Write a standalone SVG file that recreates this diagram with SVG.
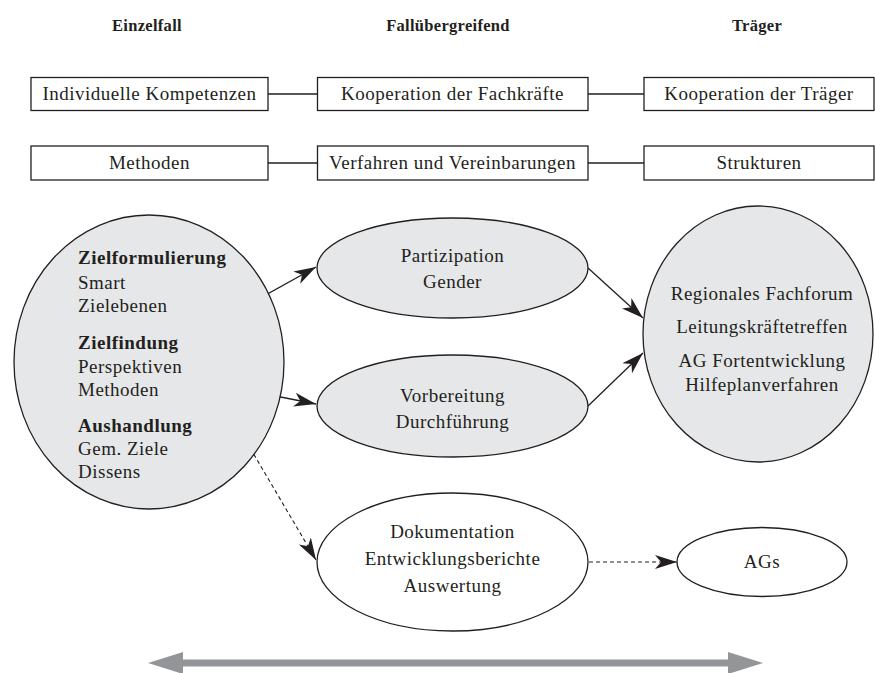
<svg xmlns="http://www.w3.org/2000/svg" width="875" height="673" viewBox="0 0 875 673" font-family="'Liberation Serif', 'Times New Roman', serif">
<style>
text{font-family:'Liberation Serif','Times New Roman',serif;font-size:19px;letter-spacing:0.5px;fill:#231f20}
.h{font-weight:bold;font-size:16.5px;text-anchor:middle;letter-spacing:0.3px}
.c{text-anchor:middle}
.b{font-weight:bold}
.box{fill:#fff;stroke:#231f20;stroke-width:1.3}
.g{fill:#e6e7e8;stroke:#231f20;stroke-width:1.3}
.w{fill:#fff;stroke:#231f20;stroke-width:1.3}
.ln{stroke:#231f20;stroke-width:1.3;fill:none}
.ar{stroke:#231f20;stroke-width:1.3;fill:none;marker-end:url(#ah)}
.da{stroke:#231f20;stroke-width:1.1;fill:none;stroke-dasharray:4 3;marker-end:url(#ah)}
</style>
<defs>
<marker id="ah" markerUnits="userSpaceOnUse" markerWidth="24" markerHeight="16" viewBox="0 0 24 16" refX="22" refY="8" orient="auto">
<path d="M0,1 L22,8 L0,15 L6,8 z" fill="#231f20"/>
</marker>
</defs>
<g id="headers">
<text class="h" x="147" y="31">Einzelfall</text>
<text class="h" x="448" y="31">Fallübergreifend</text>
<text class="h" x="757" y="31">Träger</text>
</g>
<g id="connectors">
<line class="ln" x1="268" y1="94" x2="318" y2="94"/>
<line class="ln" x1="588" y1="94" x2="644" y2="94"/>
<line class="ln" x1="268" y1="163" x2="318" y2="163"/>
<line class="ln" x1="588" y1="163" x2="644" y2="163"/>
<path class="ar" d="M235,312 L316,267"/>
<path class="ar" d="M235,388 L316,404"/>
<path class="ar" d="M588,268 L643,318"/>
<path class="ar" d="M588,406 L643,353"/>
<path class="da" d="M236,424 L316,560"/>
<path class="da" d="M589,562 L677,562"/>
</g>
<g id="box1"><rect class="box" x="31" y="77.5" width="237" height="33"/><text class="c" x="149.5" y="100">Individuelle Kompetenzen</text></g>
<g id="box2"><rect class="box" x="317.5" y="77.5" width="270.5" height="33"/><text class="c" x="452.5" y="100">Kooperation der Fachkräfte</text></g>
<g id="box3"><rect class="box" x="644" y="77.5" width="230" height="33"/><text class="c" x="759" y="100">Kooperation der Träger</text></g>
<g id="box4"><rect class="box" x="31" y="146" width="237" height="34"/><text class="c" x="149.5" y="169">Methoden</text></g>
<g id="box5"><rect class="box" x="317.5" y="146" width="270.5" height="34"/><text class="c" x="452.5" y="169">Verfahren und Vereinbarungen</text></g>
<g id="box6"><rect class="box" x="644" y="146" width="230" height="34"/><text class="c" x="759" y="169">Strukturen</text></g>
<g id="einzelfall">
<ellipse class="g" cx="149" cy="362" rx="135" ry="147"/>
<text class="b" x="78" y="264">Zielformulierung</text>
<text x="78" y="289">Smart</text>
<text x="78" y="312">Zielebenen</text>
<text class="b" x="78" y="349">Zielfindung</text>
<text x="78" y="373">Perspektiven</text>
<text x="78" y="396">Methoden</text>
<text class="b" x="78" y="432">Aushandlung</text>
<text x="78" y="455">Gem. Ziele</text>
<text x="78" y="478">Dissens</text>
</g>
<g id="partizipation">
<ellipse class="g" cx="452.5" cy="268" rx="135.5" ry="50"/>
<text class="c" x="452.5" y="262">Partizipation</text>
<text class="c" x="452.5" y="288">Gender</text>
</g>
<g id="vorbereitung">
<ellipse class="g" cx="452.5" cy="406" rx="135.5" ry="51"/>
<text class="c" x="452.5" y="402">Vorbereitung</text>
<text class="c" x="452.5" y="428">Durchführung</text>
</g>
<g id="traeger">
<ellipse class="g" cx="758" cy="334" rx="115" ry="128"/>
<text class="c" x="762" y="300">Regionales Fachforum</text>
<text class="c" x="762" y="333">Leitungskräftetreffen</text>
<text class="c" x="762" y="367">AG Fortentwicklung</text>
<text class="c" x="762" y="391">Hilfeplanverfahren</text>
</g>
<g id="dokumentation">
<ellipse class="w" cx="452.5" cy="562" rx="135.5" ry="69"/>
<text class="c" x="452.5" y="538">Dokumentation</text>
<text class="c" x="452.5" y="565">Entwicklungsberichte</text>
<text class="c" x="452.5" y="592">Auswertung</text>
</g>
<g id="ags">
<ellipse class="w" cx="762" cy="562" rx="85" ry="34.5"/>
<text class="c" x="762" y="568">AGs</text>
</g>
<g id="bottom-arrow">
<path d="M148,663 L183,652 L183,659.5 L728,659.5 L728,652 L763,663 L728,674 L728,666.5 L183,666.5 L183,674 z" fill="#939598"/>
</g>
</svg>
